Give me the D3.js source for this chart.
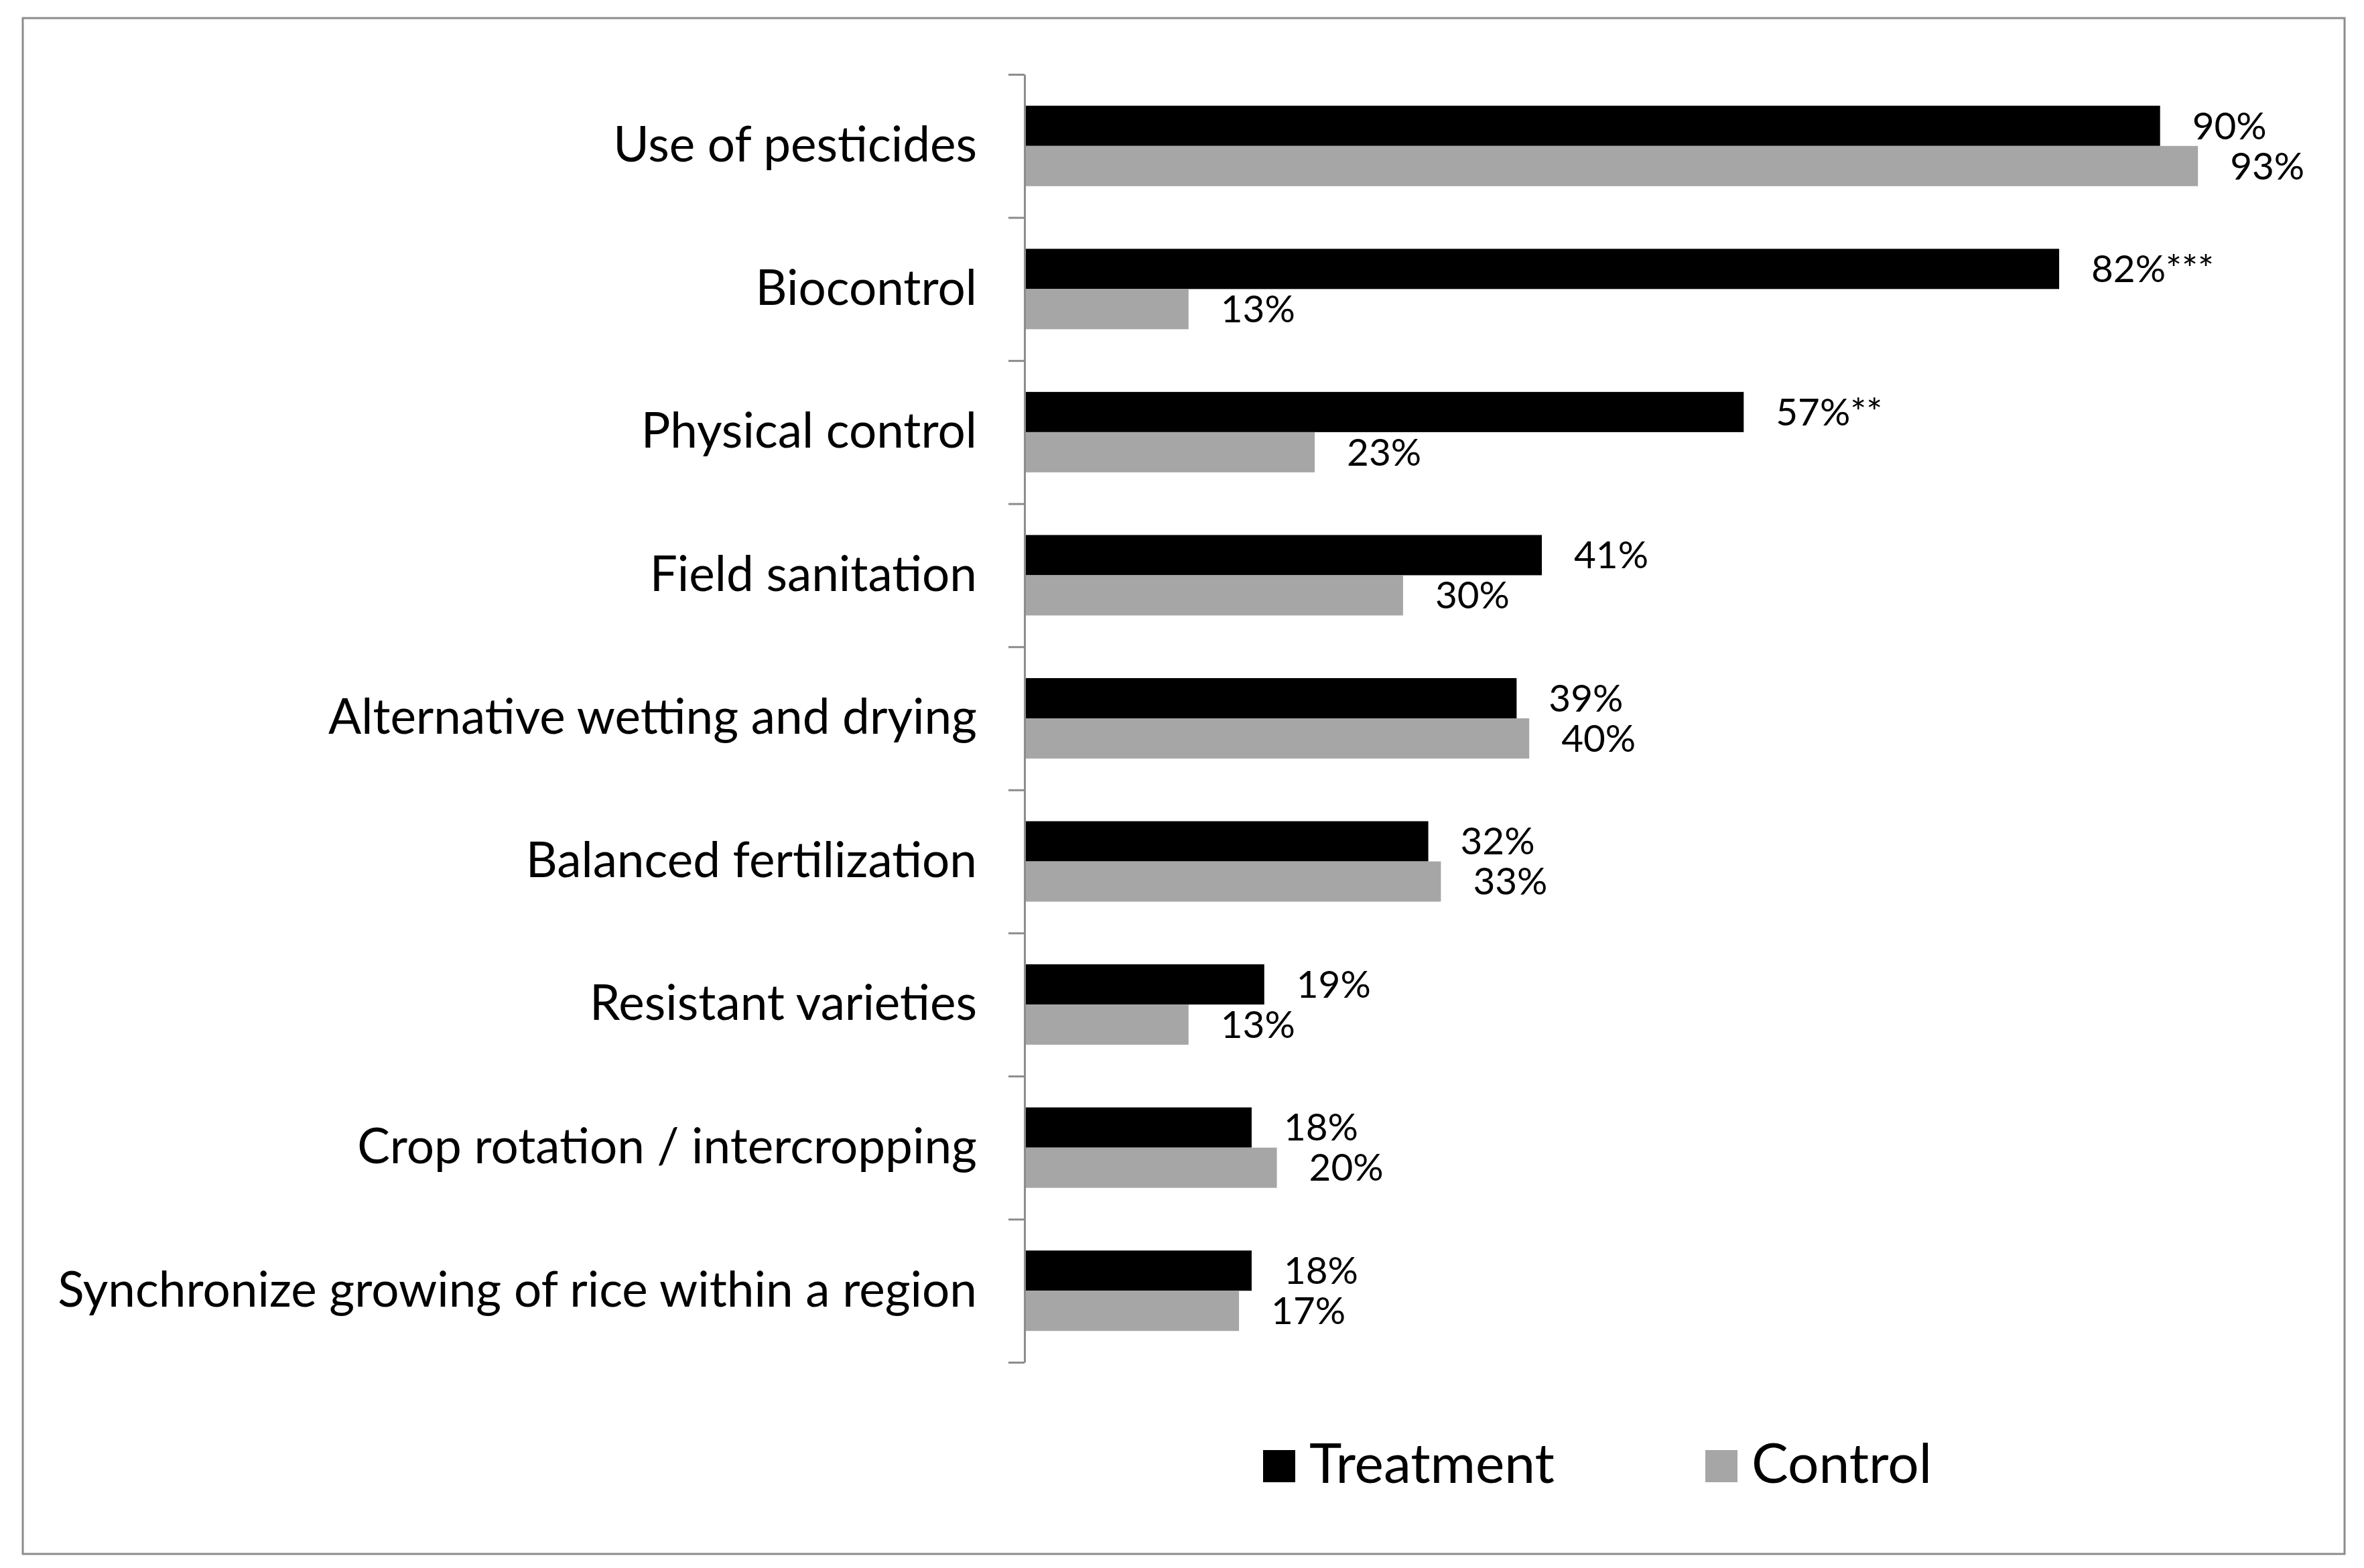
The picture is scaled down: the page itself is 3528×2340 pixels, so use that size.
<!DOCTYPE html>
<html>
<head>
<meta charset="utf-8">
<script src="https://cdn.jsdelivr.net/npm/d3@7"></script>
<style>
  html, body { margin: 0; padding: 0; background: #fff; }
  svg { display: block; }
</style>
</head>
<body>
<svg id="chart" width="3528" height="2340"></svg>
<script>
// ---- data ----
const categories = [
  "Use of pesticides",
  "Biocontrol",
  "Physical control",
  "Field sanitation",
  "Alternative wetting and drying",
  "Balanced fertilization",
  "Resistant varieties",
  "Crop rotation / intercropping",
  "Synchronize growing of rice within a region"
];
const seriesNames = ["Treatment", "Control"];
const treatment = [90, 82, 57, 41, 39, 32, 19, 18, 18];
const control   = [93, 13, 23, 30, 40, 33, 13, 20, 17];
const treatmentSig = ["", "***", "**", "", "", "", "", "", ""];
const controlSig   = ["", "", "", "", "", "", "", "", ""];
const seriesColors = ["#000000", "#a6a6a6"];

// ---- layout ----
const FONT = "Lato, 'Open Sans', sans-serif";
const svg = d3.select("#chart");
const W = 3528, H = 2340;
svg.append("rect").attr("width", W).attr("height", H).attr("fill", "#fff");

// outer frame
svg.append("rect")
  .attr("x", 34).attr("y", 27).attr("width", 3499 - 34).attr("height", 2319 - 27)
  .attr("fill", "none").attr("stroke", "#8c8c8c").attr("stroke-width", 3);

const axisX = 1529, plotTop = 111, plotBottom = 2033;
const x = d3.scaleLinear().domain([0, 100]).range([axisX, 3412]);
const y = d3.scaleBand().domain(categories).range([plotTop, plotBottom]).padding(0);
const bw = y.bandwidth();
const groupFrac = 120 / 213.5;
const y1 = d3.scaleBand().domain(seriesNames)
  .range([bw * (1 - groupFrac) / 2, bw * (1 + groupFrac) / 2]).padding(0);

// helper to fit a font size to a target width
function fitSize(text, targetWidth, base) {
  const t = svg.append("text").attr("font-family", FONT).attr("font-size", base).text(text);
  const w = t.node().getComputedTextLength();
  t.remove();
  return base * targetWidth / w;
}
const catSize = fitSize(categories[8], 1372, 100);
const valSize = fitSize("90%", 111, 100);
const legSize = fitSize("Treatment", 366, 100);

const rows = categories.map((c, i) => ({
  cat: c,
  vals: [
    { s: "Treatment", v: treatment[i], sig: treatmentSig[i] },
    { s: "Control", v: control[i], sig: controlSig[i] }
  ]
}));

// bars
const g = svg.append("g");
const grp = g.selectAll("g.cat").data(rows).join("g")
  .attr("class", "cat")
  .attr("transform", d => `translate(0,${y(d.cat)})`);

grp.selectAll("rect").data(d => d.vals).join("rect")
  .attr("x", x(0))
  .attr("y", d => y1(d.s))
  .attr("width", d => x(d.v) - x(0))
  .attr("height", y1.bandwidth())
  .attr("fill", (d, i) => seriesColors[i]);

grp.selectAll("text.val").data(d => d.vals).join("text")
  .attr("class", "val")
  .attr("x", d => x(d.v) + 48)
  .attr("y", d => y1(d.s) + y1.bandwidth() / 2)
  .attr("dy", "0.35em")
  .attr("font-family", FONT)
  .attr("font-size", valSize)
  .attr("fill", "#000")
  .text(d => d.v + "%" + d.sig);

// axis line with boundary ticks
const yIdx = d3.scaleLinear().domain([0, categories.length]).range([plotTop, plotBottom]);
const axisG = svg.append("g").attr("transform", `translate(${axisX},0)`)
  .call(d3.axisLeft(yIdx).tickValues(d3.range(categories.length + 1))
    .tickSizeInner(24).tickSizeOuter(0).tickFormat(""));
axisG.selectAll("path, line").attr("stroke", "#8c8c8c").attr("stroke-width", 3);

// category labels
const labG = svg.append("g").attr("transform", `translate(${axisX},0)`)
  .call(d3.axisLeft(y).tickSize(0).tickPadding(71));
labG.select(".domain").remove();
labG.selectAll("text")
  .attr("font-family", FONT)
  .attr("font-size", catSize)
  .attr("fill", "#000");

// legend
const legendItems = [
  { name: seriesNames[0], color: seriesColors[0], sx: 1885, tx: 1954 },
  { name: seriesNames[1], color: seriesColors[1], sx: 2545, tx: 2614 }
];
const leg = svg.append("g");
leg.selectAll("rect").data(legendItems).join("rect")
  .attr("x", d => d.sx).attr("y", 2164).attr("width", 48).attr("height", 48)
  .attr("fill", d => d.color);
leg.selectAll("text").data(legendItems).join("text")
  .attr("x", d => d.tx).attr("y", 2213)
  .attr("font-family", FONT).attr("font-size", legSize).attr("fill", "#000")
  .text(d => d.name);
</script>
</body>
</html>
